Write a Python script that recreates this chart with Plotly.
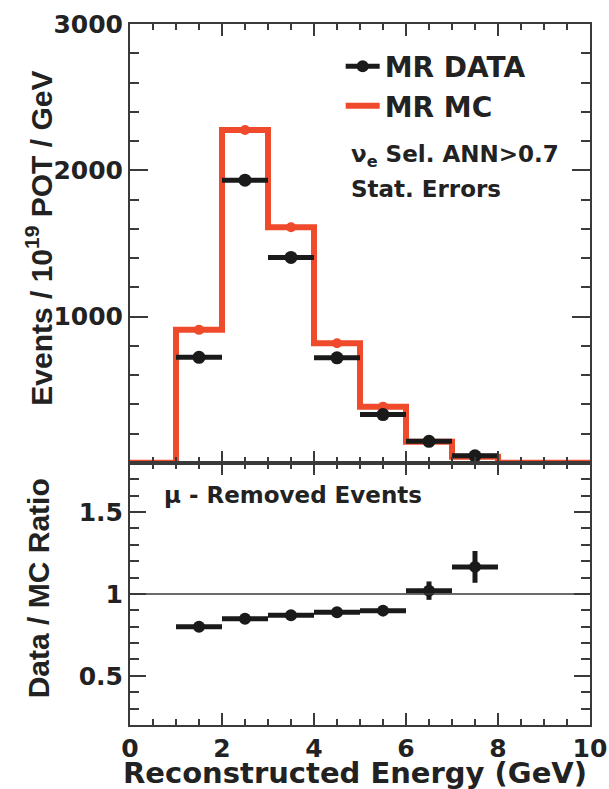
import plotly.graph_objects as go

# Reconstructed energy binning (GeV)
bin_edges = [0, 1, 2, 3, 4, 5, 6, 7, 8, 9, 10]
mc_counts = [0, 909, 2275, 1610, 817, 384, 144, 41, 0, 0]
mc_errors = [0, 12, 20, 16, 12, 8, 5, 3, 0, 0]

# Filled bins for data points
data_centers = [1.5, 2.5, 3.5, 4.5, 5.5, 6.5, 7.5]
data_counts = [721, 1932, 1404, 718, 330, 147, 48]
data_errors = [20, 30, 26, 20, 14, 10, 6]

# Data / MC ratio for muon-removed events
ratio_values = [0.80, 0.849, 0.870, 0.888, 0.898, 1.02, 1.165]
ratio_errors = [0.02, 0.022, 0.022, 0.024, 0.028, 0.056, 0.097]

half_width = [0.5] * len(data_centers)

RED = "#EF4A2C"
INK = "#1a1a1a"
AXIS = "#3a3a3a"
FONT = "DejaVu Sans"

fig = go.Figure()

# MC histogram as a step line over the bin edges
fig.add_trace(go.Scatter(
    x=bin_edges, y=mc_counts + [mc_counts[-1]],
    mode="lines", line=dict(color=RED, width=6, shape="hv"),
    name="MR MC", legendgroup="mc", legendrank=2, showlegend=True,
    xaxis="x", yaxis="y",
))

# MC bin-centre points with statistical errors
mc_centers = [e + 0.5 for e in bin_edges[:-1]]
fig.add_trace(go.Scatter(
    x=[c for c, v in zip(mc_centers, mc_counts) if v > 0],
    y=[v for v in mc_counts if v > 0],
    mode="markers", marker=dict(color=RED, size=10),
    error_y=dict(type="data", array=[e for e, v in zip(mc_errors, mc_counts) if v > 0],
                 color=RED, thickness=3, width=0),
    showlegend=False, xaxis="x", yaxis="y",
))

# Data points
fig.add_trace(go.Scatter(
    x=data_centers, y=data_counts, mode="markers",
    marker=dict(color=INK, size=13),
    error_x=dict(type="data", array=half_width, color=INK, thickness=5, width=0),
    error_y=dict(type="data", array=data_errors, color=INK, thickness=3, width=0),
    showlegend=False, xaxis="x", yaxis="y",
))

# Legend entry for data
fig.add_trace(go.Scatter(
    x=[None], y=[None], mode="lines+markers",
    line=dict(color=INK, width=5), marker=dict(color=INK, size=12),
    name="MR DATA", legendgroup="data", legendrank=1,
    xaxis="x", yaxis="y",
))

# Ratio points
fig.add_trace(go.Scatter(
    x=data_centers, y=ratio_values, mode="markers",
    marker=dict(color=INK, size=12),
    error_x=dict(type="data", array=half_width, color=INK, thickness=5, width=0),
    error_y=dict(type="data", array=ratio_errors, color=INK, thickness=5, width=0),
    showlegend=False, xaxis="x2", yaxis="y2",
))

# Unity line on the ratio panel
fig.add_shape(type="line", xref="x2 domain", yref="y2", x0=0, x1=1, y0=1, y1=1,
              line=dict(color=AXIS, width=1.5))

tick_font = dict(family=FONT, size=25, color="#222", weight="bold")

common_axis = dict(
    showline=True, linecolor=AXIS, linewidth=2, mirror="allticks",
    ticks="inside", tickcolor=AXIS, tickwidth=1.5, automargin=False,
    showgrid=False, zeroline=False, tickfont=tick_font,
)

fig.update_layout(
    width=609, height=789,
    margin=dict(l=130, r=19, t=24, b=64, autoexpand=False),
    paper_bgcolor="white", plot_bgcolor="white",
    font=dict(family=FONT, color="#222"),
    xaxis=dict(common_axis, domain=[0, 1], range=[0, 10], anchor="y",
               dtick=2, ticklen=12, showticklabels=False,
               minor=dict(dtick=0.5, ticklen=6, ticks="inside", tickcolor=AXIS, tickwidth=1.5)),
    yaxis=dict(common_axis, domain=[0.374, 1], range=[0, 3000], anchor="x",
               tickvals=[1000, 2000, 3000], ticklen=18, ticklabelstandoff=0,
               minor=dict(dtick=200, ticklen=9, ticks="inside", tickcolor=AXIS, tickwidth=1.5)),
    xaxis2=dict(common_axis, domain=[0, 1], range=[0, 10], anchor="y2",
                dtick=2, ticklen=12, ticklabelstandoff=0,
                minor=dict(dtick=0.5, ticklen=6, ticks="inside", tickcolor=AXIS, tickwidth=1.5)),
    yaxis2=dict(common_axis, domain=[0, 0.374], range=[0.2, 1.8], anchor="x2",
                tickvals=[0.5, 1, 1.5], ticktext=["0.5", "1", "1.5"], ticklen=16,
                ticklabelstandoff=0,
                minor=dict(dtick=0.1, ticklen=9, ticks="inside", tickcolor=AXIS, tickwidth=1.5)),
    legend=dict(x=0.458, y=0.975, xanchor="left", yanchor="top",
                bgcolor="rgba(0,0,0,0)", borderwidth=0,
                font=dict(family=FONT, size=28, color="#222", weight="bold"),
                tracegroupgap=4, itemwidth=34, traceorder="normal"),
    showlegend=True,
)

title_font = dict(family="Liberation Sans", size=30, color="#222", weight="bold")
text_font = dict(family=FONT, size=23, color="#222", weight="bold")

fig.add_annotation(text="Events / 10<sup>19</sup> POT / GeV", textangle=-90,
                   xref="paper", yref="paper", x=-0.198, y=0.695,
                   xanchor="center", yanchor="middle", showarrow=False, font=title_font)
fig.add_annotation(text="Data / MC Ratio", textangle=-90,
                   xref="paper", yref="paper", x=-0.2, y=0.195,
                   xanchor="center", yanchor="middle", showarrow=False, font=title_font)
fig.add_annotation(text="Reconstructed Energy (GeV)",
                   xref="paper", yref="paper", x=-0.02, y=-0.069,
                   xanchor="left", yanchor="middle", showarrow=False,
                   font=dict(family=FONT, size=29, color="#222", weight="bold"))
fig.add_annotation(text="ν<sub>e</sub> Sel. ANN&gt;0.7",
                   xref="paper", yref="paper", x=0.476, y=0.812,
                   xanchor="left", yanchor="middle", showarrow=False, font=text_font)
fig.add_annotation(text="Stat. Errors",
                   xref="paper", yref="paper", x=0.476, y=0.765,
                   xanchor="left", yanchor="middle", showarrow=False, font=text_font)
fig.add_annotation(text="μ - Removed Events",
                   xref="paper", yref="paper", x=0.07, y=0.328,
                   xanchor="left", yanchor="middle", showarrow=False, font=text_font)

fig.write_html("out.html")
